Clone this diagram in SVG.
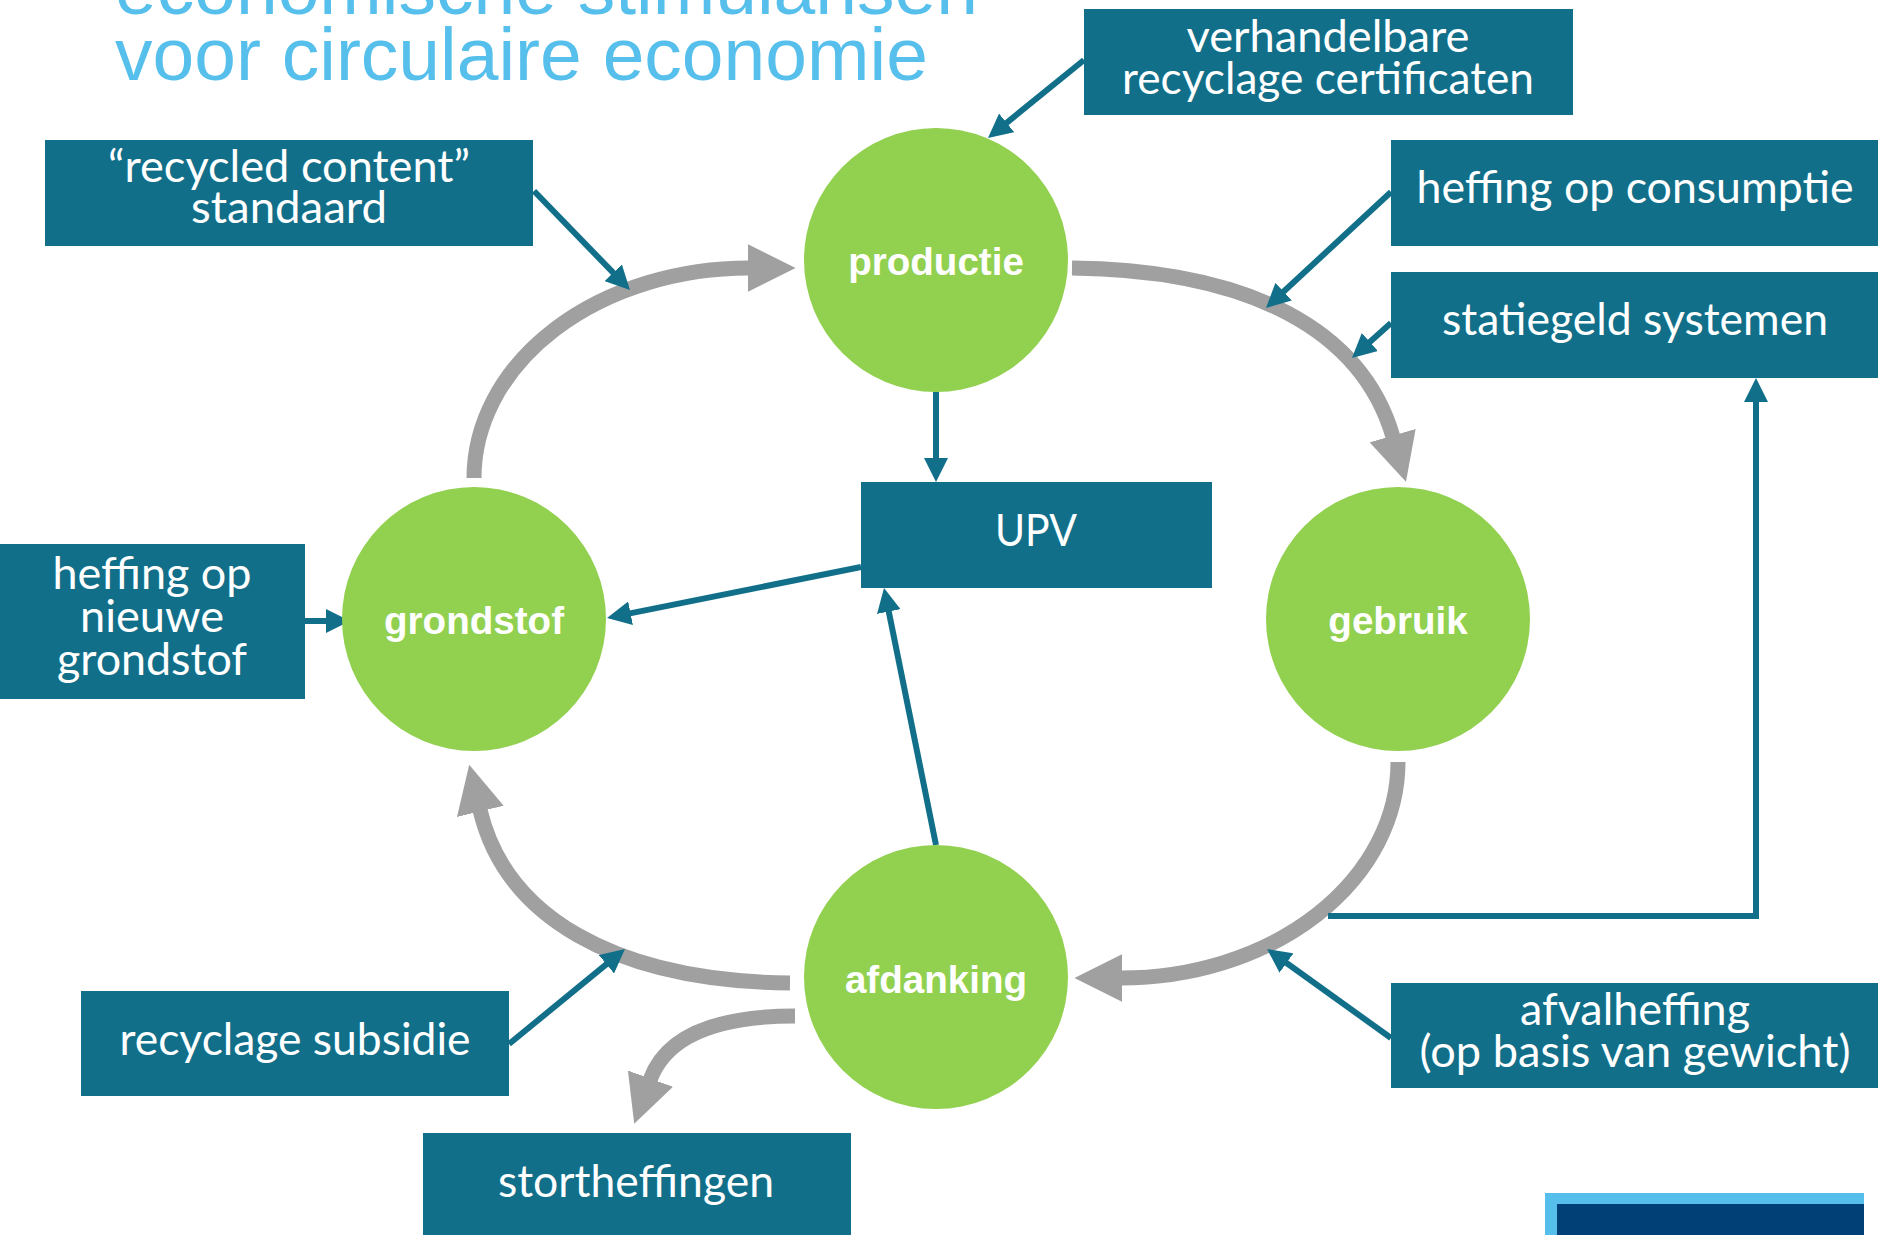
<svg xmlns="http://www.w3.org/2000/svg" width="1878" height="1235" viewBox="0 0 1878 1235">
<style>
.title{font-family:"Liberation Sans",Arial,sans-serif;font-size:75px;fill:#56BFEB}
.box{fill:#126F8A}
.bt{font-family:Lato,"Open Sans",sans-serif;font-size:45px;fill:#FFFFFF;text-anchor:middle}
.circ{fill:#92D050}
.ct{font-family:"Liberation Sans",Arial,sans-serif;font-weight:bold;font-size:38.6px;fill:#FFFFFF;text-anchor:middle}
.flow{fill:none;stroke:#A0A0A0;stroke-width:15;marker-end:url(#ga)}
.link{fill:none;stroke:#126F8A;stroke-width:6;marker-end:url(#ba)}
</style>
<defs>
<marker id="ga" viewBox="0 0 10 10" refX="0.3" refY="5" markerWidth="3.2" markerHeight="3.2" markerUnits="strokeWidth" orient="auto">
<path d="M0,0 L10,5 L0,10 z" fill="#A0A0A0"/>
</marker>
<marker id="ba" viewBox="0 0 10 10" refX="5" refY="5" markerWidth="4" markerHeight="4" markerUnits="strokeWidth" orient="auto">
<path d="M0,0 L10,5 L0,10 z" fill="#126F8A"/>
</marker>
</defs>
<rect width="1878" height="1235" fill="#FFFFFF"/>
<g id="title">
<text class="title" x="115" y="14">economische stimulansen</text>
<text class="title" x="115" y="80">voor circulaire economie</text>
</g>
<g id="connectors">
<path class="flow" d="M474 478 A275 210 0 0 1 749 268"/>
<path class="flow" d="M1072 268 C1250 270 1362 330 1393 437"/>
<path class="flow" d="M1398 762 A277 216 0 0 1 1121 978"/>
<path class="flow" d="M790 983 C612 981 505 915 480 810"/>
<path class="flow" d="M795 1016 C730 1016 668 1030 650 1080"/>
<path class="link" d="M936 392 L936 470"/>
<path class="link" d="M861 567 L618.8 615.6"/>
<path class="link" d="M936 845 L886.4 599.8"/>
<path class="link" d="M1084 60 L997.3 130.4"/>
<path class="link" d="M1391 192 L1274.8 299.8"/>
<path class="link" d="M1391 323 L1360.9 350"/>
<path class="link" d="M534 191 L621.6 281.4"/>
<path class="link" d="M305 621 L338 621"/>
<path class="link" d="M509 1044 L615.7 956.6"/>
<path class="link" d="M1391 1038 L1276.8 956"/>
<path class="link" d="M1328 916 L1756 916 L1756 390"/>
</g>
<g id="node-productie">
<circle class="circ" cx="936" cy="260" r="132"/>
<text class="ct" x="936" y="275">productie</text>
</g>
<g id="node-grondstof">
<circle class="circ" cx="474" cy="619" r="132"/>
<text class="ct" x="474" y="634">grondstof</text>
</g>
<g id="node-gebruik">
<circle class="circ" cx="1398" cy="619" r="132"/>
<text class="ct" x="1398" y="634">gebruik</text>
</g>
<g id="node-afdanking">
<circle class="circ" cx="936" cy="977" r="132"/>
<text class="ct" x="936" y="993">afdanking</text>
</g>
<g id="box-verhandelbare">
<rect class="box" x="1084" y="9" width="489" height="106"/>
<text class="bt" x="1328" y="52" textLength="283" lengthAdjust="spacingAndGlyphs">verhandelbare</text>
<text class="bt" x="1328" y="94" textLength="412" lengthAdjust="spacingAndGlyphs">recyclage certificaten</text>
</g>
<g id="box-consumptie">
<rect class="box" x="1391" y="140" width="488" height="106"/>
<text class="bt" x="1635" y="203" textLength="437" lengthAdjust="spacingAndGlyphs">heffing op consumptie</text>
</g>
<g id="box-statiegeld">
<rect class="box" x="1391" y="272" width="488" height="106"/>
<text class="bt" x="1635" y="335" textLength="386" lengthAdjust="spacingAndGlyphs">statiegeld systemen</text>
</g>
<g id="box-recycled-content">
<rect class="box" x="45" y="140" width="488" height="106"/>
<text class="bt" x="289" y="182" textLength="362" lengthAdjust="spacingAndGlyphs">“recycled content”</text>
<text class="bt" x="289" y="223" textLength="196" lengthAdjust="spacingAndGlyphs">standaard</text>
</g>
<g id="box-upv">
<rect class="box" x="861" y="482" width="351" height="106"/>
<text class="bt" x="1036" y="546" textLength="82" lengthAdjust="spacingAndGlyphs">UPV</text>
</g>
<g id="box-nieuwe-grondstof">
<rect class="box" x="-10" y="544" width="315" height="155"/>
<text class="bt" x="152" y="589" textLength="199" lengthAdjust="spacingAndGlyphs">heffing op</text>
<text class="bt" x="152" y="632" textLength="144" lengthAdjust="spacingAndGlyphs">nieuwe</text>
<text class="bt" x="152" y="675" textLength="190" lengthAdjust="spacingAndGlyphs">grondstof</text>
</g>
<g id="box-subsidie">
<rect class="box" x="81" y="991" width="428" height="105"/>
<text class="bt" x="295" y="1055" textLength="351" lengthAdjust="spacingAndGlyphs">recyclage subsidie</text>
</g>
<g id="box-stortheffingen">
<rect class="box" x="423" y="1133" width="428" height="110"/>
<text class="bt" x="636" y="1197" textLength="276" lengthAdjust="spacingAndGlyphs">stortheffingen</text>
</g>
<g id="box-afvalheffing">
<rect class="box" x="1391" y="983" width="488" height="105"/>
<text class="bt" x="1635" y="1025" textLength="230" lengthAdjust="spacingAndGlyphs">afvalheffing</text>
<text class="bt" x="1635" y="1067" textLength="431" lengthAdjust="spacingAndGlyphs">(op basis van gewicht)</text>
</g>
<g id="corner-deco">
<rect x="1545" y="1193" width="319" height="42" fill="#55BEEB"/>
<rect x="1557" y="1204" width="307" height="31" fill="#004077"/>
</g>
</svg>
